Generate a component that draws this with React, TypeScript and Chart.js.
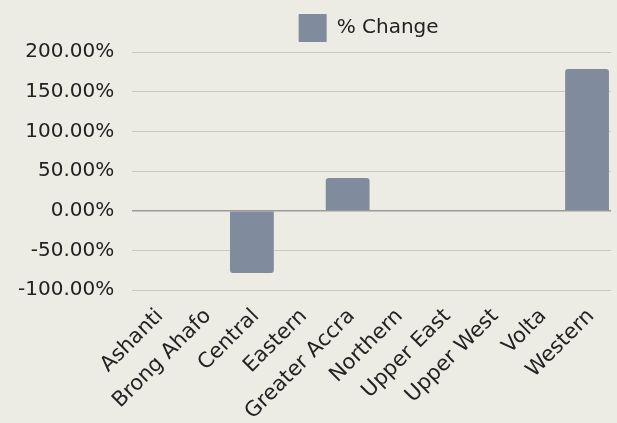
import React, { useEffect, useRef } from "react";
import { Chart, registerables } from "chart.js";

Chart.register(...registerables);

const categories = [
  "Ashanti",
  "Brong Ahafo",
  "Central",
  "Eastern",
  "Greater Accra",
  "Northern",
  "Upper East",
  "Upper West",
  "Volta",
  "Western",
];
const changeValues = [0, 0, -78.5, 0, 41.2, 0, 0, 0, 0, 178.5];
const seriesName = "% Change";
const yMin = -100;
const yMax = 200;
const yStep = 50;

const FONT = "'DejaVu Sans', sans-serif";

const legendShift = {
  id: "legendShift",
  afterLayout(chart: any) {
    const lg = chart.legend;
    if (!lg) return;
    const w = lg.right - lg.left;
    const ca = chart.chartArea;
    const center = (ca.left + ca.right) / 2 - 3;
    lg.left = center - w / 2;
    lg.right = center + w / 2;
  },
};

export default function App() {
  const ref = useRef<HTMLCanvasElement | null>(null);

  useEffect(() => {
    document.body.style.margin = "0";
    const canvas = ref.current;
    if (!canvas) return;
    const chart = new Chart(canvas, {
      type: "bar",
      data: {
        labels: categories,
        datasets: [
          {
            label: seriesName,
            data: changeValues,
            backgroundColor: "#808b9e",
            borderColor: "#808b9e",
            borderWidth: 0,
            borderRadius: 3,
            borderSkipped: "start",
            categoryPercentage: 1,
            barPercentage: 0.915,
          },
        ],
      },
      plugins: [legendShift],
      options: {
        responsive: false,
        animation: false,
        maintainAspectRatio: false,
        layout: { padding: { left: 0, right: 6, top: 4, bottom: 0 } },
        plugins: {
          legend: {
            display: true,
            position: "top",
            labels: {
              boxWidth: 28,
              boxHeight: 28,
              padding: 10,
              color: "#222222",
              font: { family: FONT, size: 20 },
            },
          },
          tooltip: { enabled: false },
        },
        scales: {
          x: {
            grid: { display: false, drawTicks: false },
            border: { display: false },
            afterFit: (scale: any) => {
              scale.height = 133;
              scale.paddingRight = 0;
            },
            ticks: {
              color: "#222222",
              font: { family: FONT, size: 21 },
              maxRotation: 45,
              minRotation: 45,
              autoSkip: false,
              padding: 14,
              labelOffset: 4,
            },
          },
          y: {
            min: yMin,
            max: yMax,
            border: { display: false },
            grid: {
              drawTicks: false,
              color: (ctx: any) =>
                ctx.tick && ctx.tick.value === 0 ? "#9a9a96" : "#c9c9c2",
              lineWidth: (ctx: any) => (ctx.tick && ctx.tick.value === 0 ? 1.5 : 1),
            },
            ticks: {
              stepSize: yStep,
              padding: 18,
              color: "#222222",
              font: { family: FONT, size: 20 },
              callback: (v: any) => Number(v).toFixed(2) + "%",
            },
          },
        },
      },
    });
    return () => chart.destroy();
  }, []);

  return (
    <div style={{ width: 617, height: 423, background: "#ecece4" }}>
      <canvas ref={ref} width={617} height={423} style={{ display: "block" }} />
    </div>
  );
}
